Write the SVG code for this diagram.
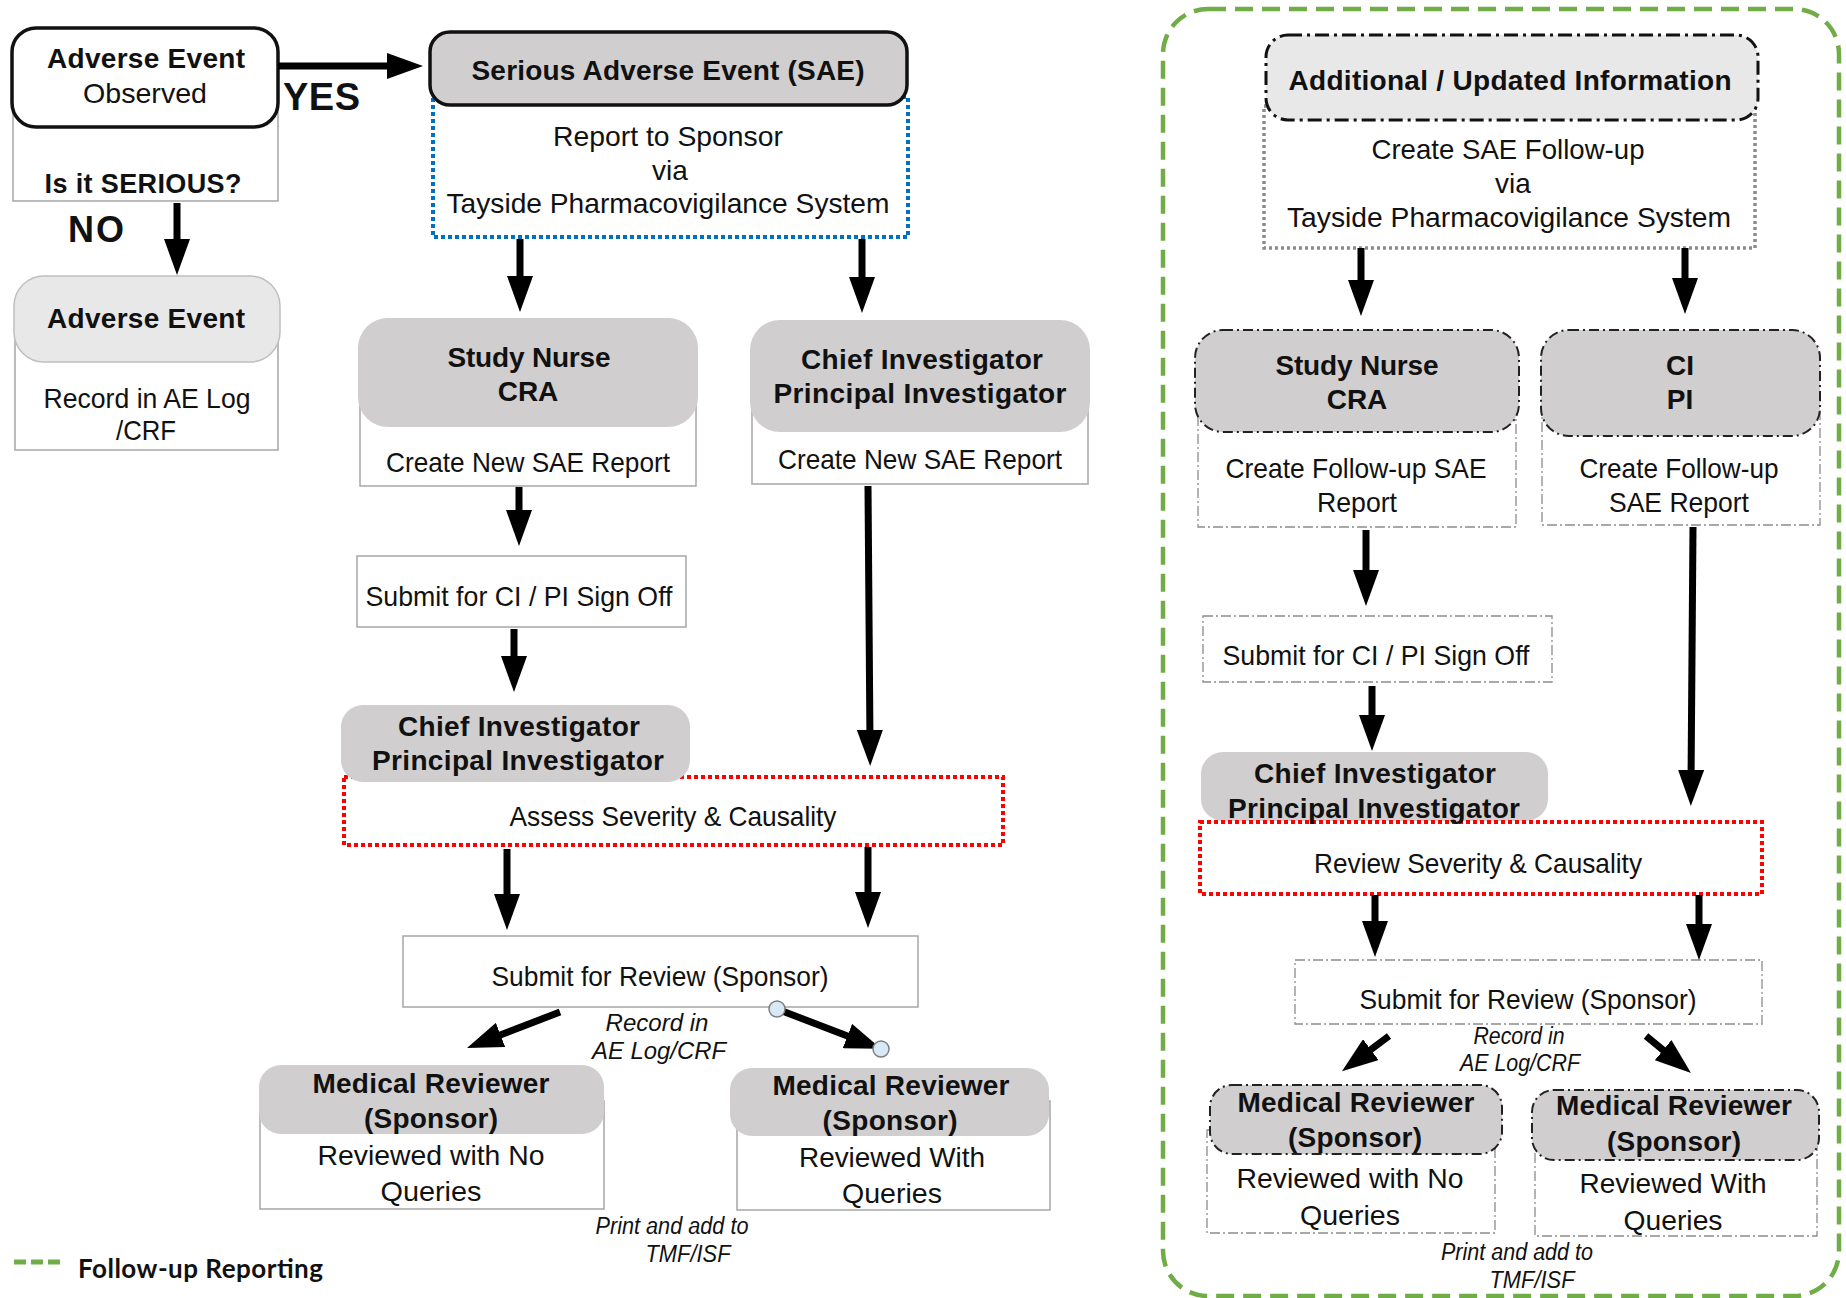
<svg xmlns="http://www.w3.org/2000/svg" width="1846" height="1298" viewBox="0 0 1846 1298">
<defs>
<marker id="ah" viewBox="0 0 36 26" refX="14" refY="13" markerWidth="36" markerHeight="26" markerUnits="userSpaceOnUse" orient="auto">
<path d="M0,0 L36,13 L0,26 z" fill="#000"/>
</marker>
</defs>
<style>
.t{font-family:"Liberation Sans",Arial,sans-serif;fill:#111;text-anchor:middle}
.hb{font-size:28px;font-weight:bold}
.n26{font-size:28px}
.n28{font-size:28px}
.it{font-size:23px;font-style:italic}
.hdr{fill:#d0cece}
.lt{fill:#e8e8e8}
.sub{fill:#fff;stroke:#a6a6a6;stroke-width:1.5}
.subd{fill:#fff;stroke:#8c8c8c;stroke-width:1.3;stroke-dasharray:10 3 2 3}
.hdrd{fill:#d0cece;stroke:#222;stroke-width:2;stroke-dasharray:10 4 2 4}
.red{fill:#fff;stroke:#ff0000;stroke-width:4;stroke-dasharray:4 3}
.conn line{stroke:#000;stroke-width:7;marker-end:url(#ah)}
</style>
<rect width="1846" height="1298" fill="#fff"/>

<!-- follow-up panel -->
<rect id="followup-panel" x="1163" y="9" width="676" height="1287" rx="45" fill="none" stroke="#70ad47" stroke-width="4.5" stroke-dasharray="18 9"/>

<g id="ae-observed">
<rect x="13" y="100" width="265" height="101" class="sub"/>
<rect x="12" y="28" width="266" height="99" rx="24" fill="#fff" stroke="#111" stroke-width="3.5"/>
<text class="t hb" x="146" y="68" textLength="198">Adverse Event</text>
<text class="t n28" x="145" y="103" textLength="124" lengthAdjust="spacingAndGlyphs">Observed</text>
<text class="t hb" style="font-size:27px" x="143" y="193" textLength="197">Is it SERIOUS?</text>
</g>
<text class="t" style="font-size:38px;font-weight:bold;text-anchor:start" x="283" y="110" textLength="77">YES</text>
<text class="t" style="font-size:36px;font-weight:bold;text-anchor:start" x="68" y="242" textLength="56">NO</text>

<g id="adverse-event">
<rect x="15" y="330" width="263" height="120" class="sub"/>
<rect x="14" y="276" width="266" height="86" rx="30" class="lt" stroke="#bfbfbf" stroke-width="1.5"/>
<text class="t hb" x="146" y="328" textLength="198">Adverse Event</text>
<text class="t n26" x="147" y="408" textLength="207" lengthAdjust="spacingAndGlyphs">Record in AE Log</text>
<text class="t n26" x="146" y="440" textLength="60" lengthAdjust="spacingAndGlyphs">/CRF</text>
</g>

<g id="sae">
<rect x="433" y="97" width="475" height="140" fill="#fff" stroke="#0070c0" stroke-width="4" stroke-dasharray="4 3"/>
<rect x="430" y="32" width="477" height="73" rx="20" class="hdr" stroke="#111" stroke-width="3.5"/>
<text class="t hb" x="668" y="80" textLength="393">Serious Adverse Event (SAE)</text>
<text class="t n28" x="668" y="146" textLength="230" lengthAdjust="spacingAndGlyphs">Report to Sponsor</text>
<text class="t n28" x="670" y="180">via</text>
<text class="t n28" x="668" y="213" textLength="443" lengthAdjust="spacingAndGlyphs">Tayside Pharmacovigilance System</text>
</g>

<g id="study-nurse">
<rect x="360" y="380" width="336" height="106" class="sub"/>
<rect x="358" y="318" width="340" height="109" rx="30" class="hdr"/>
<text class="t hb" x="529" y="367" textLength="163">Study Nurse</text>
<text class="t hb" x="528" y="401">CRA</text>
<text class="t n26" x="528" y="472" textLength="284" lengthAdjust="spacingAndGlyphs">Create New SAE Report</text>
</g>

<g id="ci-pi-create">
<rect x="752" y="380" width="336" height="104" class="sub"/>
<rect x="750" y="320" width="340" height="112" rx="30" class="hdr"/>
<text class="t hb" x="922" y="369" textLength="242">Chief Investigator</text>
<text class="t hb" x="920" y="403" textLength="293">Principal Investigator</text>
<text class="t n26" x="920" y="469" textLength="284" lengthAdjust="spacingAndGlyphs">Create New SAE Report</text>
</g>

<g id="submit-signoff">
<rect x="357" y="556" width="329" height="71" class="sub"/>
<text class="t n26" x="519" y="606" textLength="307" lengthAdjust="spacingAndGlyphs">Submit for CI / PI Sign Off</text>
</g>

<g id="assess">
<rect x="344" y="777" width="659" height="68" class="red"/>
<rect x="341" y="705" width="349" height="77" rx="22" class="hdr"/>
<text class="t hb" x="519" y="736" textLength="242">Chief Investigator</text>
<text class="t hb" x="518" y="770" textLength="292">Principal Investigator</text>
<text class="t n26" x="673" y="826" textLength="327" lengthAdjust="spacingAndGlyphs">Assess Severity &amp; Causality</text>
</g>

<g id="submit-review">
<rect x="403" y="936" width="515" height="71" class="sub"/>
<text class="t n26" x="660" y="986" textLength="337" lengthAdjust="spacingAndGlyphs">Submit for Review (Sponsor)</text>
</g>
<g id="record-label">
<text class="t it" x="657" y="1031" textLength="103" lengthAdjust="spacingAndGlyphs">Record in</text>
<text class="t it" x="659" y="1059" textLength="134" lengthAdjust="spacingAndGlyphs">AE Log/CRF</text>
</g>

<g id="mr-no-queries">
<rect x="260" y="1101" width="344" height="108" class="sub"/>
<rect x="259" y="1065" width="345" height="69" rx="22" class="hdr"/>
<text class="t hb" x="431" y="1093" textLength="237">Medical Reviewer</text>
<text class="t hb" x="431" y="1128" textLength="134">(Sponsor)</text>
<text class="t n28" x="431" y="1165" textLength="227" lengthAdjust="spacingAndGlyphs">Reviewed with No</text>
<text class="t n28" x="431" y="1201" textLength="101" lengthAdjust="spacingAndGlyphs">Queries</text>
</g>

<g id="mr-queries">
<rect x="737" y="1101" width="313" height="109" class="sub"/>
<rect x="730" y="1068" width="319" height="68" rx="22" class="hdr"/>
<text class="t hb" x="891" y="1095" textLength="237">Medical Reviewer</text>
<text class="t hb" x="890" y="1130" textLength="135">(Sponsor)</text>
<text class="t n28" x="892" y="1167" textLength="186" lengthAdjust="spacingAndGlyphs">Reviewed With</text>
<text class="t n28" x="892" y="1203" textLength="100" lengthAdjust="spacingAndGlyphs">Queries</text>
</g>

<g id="print-label">
<text class="t it" x="672" y="1234" textLength="153" lengthAdjust="spacingAndGlyphs">Print and add to</text>
<text class="t it" x="688" y="1262" textLength="85" lengthAdjust="spacingAndGlyphs">TMF/ISF</text>
</g>

<g id="legend">
<line x1="14" y1="1262" x2="64" y2="1262" stroke="#70ad47" stroke-width="5" stroke-dasharray="12 5"/>
<text class="t" style="font-family:Lato,'Open Sans',sans-serif;font-size:26px;font-weight:bold;text-anchor:start" x="78" y="1278" textLength="245">Follow-up Reporting</text>
</g>

<!-- Right panel nodes -->
<g id="fu-additional">
<rect x="1264" y="106" width="491" height="142" fill="#fff" stroke="#8c8c8c" stroke-width="3.5" stroke-dasharray="3 3"/>
<rect x="1266" y="35" width="492" height="85" rx="22" class="lt" stroke="#111" stroke-width="3" stroke-dasharray="14 5 3 5"/>
<text class="t hb" x="1510" y="90" textLength="443">Additional / Updated Information</text>
<text class="t n28" x="1508" y="159" textLength="273" lengthAdjust="spacingAndGlyphs">Create SAE Follow-up</text>
<text class="t n28" x="1513" y="193">via</text>
<text class="t n28" x="1509" y="227" textLength="444" lengthAdjust="spacingAndGlyphs">Tayside Pharmacovigilance System</text>
</g>

<g id="fu-study-nurse">
<rect x="1198" y="400" width="318" height="127" class="subd"/>
<rect x="1195" y="330" width="324" height="102" rx="28" class="hdrd"/>
<text class="t hb" x="1357" y="375" textLength="163">Study Nurse</text>
<text class="t hb" x="1357" y="409">CRA</text>
<text class="t n26" x="1356" y="478" textLength="261" lengthAdjust="spacingAndGlyphs">Create Follow-up SAE</text>
<text class="t n26" x="1357" y="512" textLength="80" lengthAdjust="spacingAndGlyphs">Report</text>
</g>

<g id="fu-ci-pi">
<rect x="1542" y="400" width="278" height="125" class="subd"/>
<rect x="1541" y="330" width="279" height="106" rx="28" class="hdrd"/>
<text class="t hb" x="1680" y="375">CI</text>
<text class="t hb" x="1680" y="409">PI</text>
<text class="t n26" x="1679" y="478" textLength="199" lengthAdjust="spacingAndGlyphs">Create Follow-up</text>
<text class="t n26" x="1679" y="512" textLength="140" lengthAdjust="spacingAndGlyphs">SAE Report</text>
</g>

<g id="fu-submit-signoff">
<rect x="1203" y="616" width="349" height="66" class="subd"/>
<text class="t n26" x="1376" y="665" textLength="307" lengthAdjust="spacingAndGlyphs">Submit for CI / PI Sign Off</text>
</g>

<g id="fu-review">
<rect x="1201" y="752" width="347" height="69" rx="22" class="hdr"/>
<rect x="1200" y="822" width="562" height="72" class="red"/>
<text class="t hb" x="1375" y="783" textLength="242">Chief Investigator</text>
<text class="t hb" x="1374" y="818" textLength="292">Principal Investigator</text>
<text class="t n26" x="1478" y="873" textLength="328" lengthAdjust="spacingAndGlyphs">Review Severity &amp; Causality</text>
</g>

<g id="fu-submit-review">
<rect x="1295" y="960" width="467" height="64" class="subd"/>
<text class="t n26" x="1528" y="1009" textLength="337" lengthAdjust="spacingAndGlyphs">Submit for Review (Sponsor)</text>
</g>
<g id="fu-record-label">
<text class="t it" x="1519" y="1044" textLength="91" lengthAdjust="spacingAndGlyphs">Record in</text>
<text class="t it" x="1520" y="1071" textLength="120" lengthAdjust="spacingAndGlyphs">AE Log/CRF</text>
</g>

<g id="fu-mr-no-queries">
<rect x="1207" y="1130" width="288" height="103" class="subd"/>
<rect x="1210" y="1085" width="292" height="69" rx="22" class="hdrd"/>
<text class="t hb" x="1356" y="1112" textLength="237">Medical Reviewer</text>
<text class="t hb" x="1355" y="1147" textLength="134">(Sponsor)</text>
<text class="t n28" x="1350" y="1188" textLength="227" lengthAdjust="spacingAndGlyphs">Reviewed with No</text>
<text class="t n28" x="1350" y="1225" textLength="100" lengthAdjust="spacingAndGlyphs">Queries</text>
</g>

<g id="fu-mr-queries">
<rect x="1535" y="1135" width="282" height="101" class="subd"/>
<rect x="1532" y="1090" width="287" height="70" rx="22" class="hdrd"/>
<text class="t hb" x="1674" y="1115" textLength="236">Medical Reviewer</text>
<text class="t hb" x="1674" y="1151" textLength="134">(Sponsor)</text>
<text class="t n28" x="1673" y="1193" textLength="187" lengthAdjust="spacingAndGlyphs">Reviewed With</text>
<text class="t n28" x="1673" y="1230" textLength="99" lengthAdjust="spacingAndGlyphs">Queries</text>
</g>

<g id="fu-print-label">
<text class="t it" x="1517" y="1260" textLength="152" lengthAdjust="spacingAndGlyphs">Print and add to</text>
<text class="t it" x="1532" y="1288" textLength="85" lengthAdjust="spacingAndGlyphs">TMF/ISF</text>
</g>

<!-- connectors -->
<g id="connectors" class="conn">
<line x1="278" y1="66" x2="401" y2="66"/>
<line x1="177" y1="203" x2="177" y2="253"/>
<line x1="520" y1="239" x2="520" y2="290"/>
<line x1="862" y1="239" x2="862" y2="291"/>
<line x1="519" y1="487" x2="519" y2="524"/>
<line x1="514" y1="629" x2="514" y2="670"/>
<line x1="868" y1="486" x2="870" y2="744"/>
<line x1="507" y1="849" x2="507" y2="908"/>
<line x1="868" y1="847" x2="868" y2="906"/>
<line x1="560" y1="1012" x2="487.5" y2="1040"/>
<line x1="777" y1="1009" x2="860.5" y2="1041"/>
<line x1="1361" y1="248" x2="1361" y2="294"/>
<line x1="1685" y1="248" x2="1685" y2="292"/>
<line x1="1366" y1="530" x2="1366" y2="584"/>
<line x1="1693" y1="527" x2="1691" y2="784"/>
<line x1="1372" y1="686" x2="1372" y2="729"/>
<line x1="1375" y1="895" x2="1375" y2="935"/>
<line x1="1699" y1="895" x2="1699" y2="938"/>
<line x1="1389" y1="1036" x2="1359.6" y2="1058"/>
<line x1="1646" y1="1036" x2="1674" y2="1059"/>
<circle cx="777" cy="1009" r="8" fill="#d6e9f4" stroke="#7f7f7f" stroke-width="1.5" style="marker-end:none"/>
<circle cx="881" cy="1049" r="8" fill="#d6e9f4" stroke="#7f7f7f" stroke-width="1.5" style="marker-end:none"/>
</g>
</svg>
